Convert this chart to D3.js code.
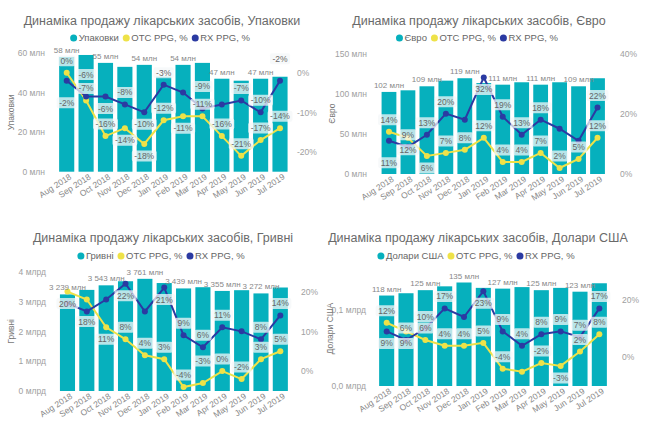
<!DOCTYPE html>
<html>
<head>
<meta charset="utf-8">
<script src="https://d3js.org/d3.v7.min.js"></script>
<style>
body { margin: 0; background: #fff; }
text { font-family: "Liberation Sans", Arial, sans-serif; }
</style>
</head>
<body>
<svg id="chart" width="650" height="433"></svg>
<script>

// months on the x axis
var months = ["Aug 2018", "Sep 2018", "Oct 2018", "Nov 2018", "Dec 2018", "Jan 2019",
              "Feb 2019", "Mar 2019", "Apr 2019", "May 2019", "Jun 2019", "Jul 2019"];

// packs (mln)
var packs    = [58, 59, 55, 53, 54, 48, 54, 55, 47, 46, 47, 48];
var packsOtc = [0, -7, -16, -14, -18, -12, -11, -11, -16, -21, -17, -14];
var packsRx  = [-2, -6, -6, -8, -10, -3, -5, -9, -8, -7, -10, -2];
var packsTicks = [0, 20, 40, 60];
var packsPctTicks = [0, -10, -20];

// euro (mln)
var euro    = [102, 104, 109, 116, 119, 113, 111, 114, 111, 114, 109, 119];
var euroOtc = [14, 12, 6, 7, 8, 12, 4, 4, 7, 2, 5, 12];
var euroRx  = [11, 9, 13, 20, 18, 32, 19, 13, 18, 15, 11, 22];
var euroTicks = [0, 50, 100, 150];
var euroPctTicks = [0, 20, 40];

// hryvnia (mln)
var uah    = [3239, 3390, 3543, 3680, 3761, 3620, 3439, 3480, 3355, 3380, 3272, 3470];
var uahOtc = [20, 18, 11, 8, 4, 3, -4, -3, 0, -2, 3, 5];
var uahRx  = [17, 15, 18, 22, 15, 21, 9, 6, 11, 10, 8, 14];
var uahTicks = [0, 1000, 2000, 3000, 4000];
var uahPctTicks = [0, 10, 20];

// US dollars (mln)
var usd    = [118, 121, 125, 130, 135, 128, 127, 129, 125, 128, 123, 134];
var usdOtc = [12, 9, 6, 4, 4, 5, -4, -5, -2, -3, 2, 8];
var usdRx  = [9, 6, 10, 17, 14, 23, 9, 4, 8, 9, 7, 17];
var usdTicks = [0, 100];
var usdPctTicks = [0, 20];

var barColor = "#06B0BD", otcColor = "#EEE248", rxColor = "#2B3AA2";

var svg = d3.select("#chart");

function spaced(v) { return d3.format(",")(v).replace(/,/g, " "); }

var panels = [
  { title: "Динаміка продажу лікарських засобів, Упаковки", name: "Упаковки",
    bars: packs, otc: packsOtc, rx: packsRx, ticks: packsTicks, pctTicks: packsPctTicks,
    yDomain: [0, 60], pctDomain: [-25, 5],
    tickFmt: function(v) { return v + " млн"; },
    barFmt: function(v) { return v + " млн"; },
    cx: 162, titleY: 25, legendY: 38, x0: 57, x1: 289.7, yTop: 53, yBottom: 171.7,
    leftX: 45, rightX: 297, axisTitleX: 14 },
  { title: "Динаміка продажу лікарських засобів, Євро", name: "Євро",
    bars: euro, otc: euroOtc, rx: euroRx, ticks: euroTicks, pctTicks: euroPctTicks,
    yDomain: [0, 150], pctDomain: [0, 40],
    tickFmt: function(v) { return v + " млн"; },
    barFmt: function(v) { return v + " млн"; },
    cx: 479, titleY: 25, legendY: 38, x0: 379.5, x1: 607, yTop: 53.3, yBottom: 174,
    leftX: 367, rightX: 620, axisTitleX: 335 },
  { title: "Динаміка продажу лікарських засобів, Гривні", name: "Гривні",
    bars: uah, otc: uahOtc, rx: uahRx, ticks: uahTicks, pctTicks: uahPctTicks,
    yDomain: [0, 4000], pctDomain: [-5, 25],
    tickFmt: function(v) { return (v / 1000) + " млрд"; },
    barFmt: function(v) { return spaced(v) + " млн"; },
    cx: 163, titleY: 242, legendY: 256, x0: 57.8, x1: 290, yTop: 271.7, yBottom: 391,
    leftX: 46, rightX: 301, axisTitleX: 14 },
  { title: "Динаміка продажу лікарських засобів, Долари США", name: "Долари США",
    bars: usd, otc: usdOtc, rx: usdRx, ticks: usdTicks, pctTicks: usdPctTicks,
    yDomain: [0, 150], pctDomain: [-10, 30],
    tickFmt: function(v) { return (v / 1000).toFixed(1).replace(".", ",") + " млрд"; },
    barFmt: function(v) { return v + " млн"; },
    cx: 478, titleY: 242, legendY: 256, x0: 377, x1: 609, yTop: 271, yBottom: 386,
    leftX: 366, rightX: 622, axisTitleX: 333 }
];

function overlaps(a, b) {
  return a.x < b.x + b.w && b.x < a.x + a.w && a.y < b.y + b.h && b.y < a.y + a.h;
}

function drawPanel(p) {
  var g = svg.append("g");

  // title
  g.append("text")
    .attr("x", p.cx).attr("y", p.titleY)
    .attr("text-anchor", "middle")
    .style("font-size", "12.5px").style("fill", "#6a6a6a")
    .text(p.title);

  // legend
  var leg = g.append("g");
  var items = [[p.name, barColor], ["OTC PPG, %", otcColor], ["RX PPG, %", rxColor]];
  var lx = 0;
  items.forEach(function(it) {
    leg.append("circle").attr("cx", lx + 3.5).attr("cy", -3).attr("r", 3.5).style("fill", it[1]);
    var t = leg.append("text").attr("x", lx + 8.5).attr("y", 0)
      .style("font-size", "9.5px").style("fill", "#666").text(it[0]);
    lx += 8.5 + t.node().getComputedTextLength() + 4;
  });
  leg.attr("transform", "translate(" + (p.cx - lx / 2) + "," + (p.legendY + 3) + ")");

  var x = d3.scaleBand().domain(months).range([p.x0, p.x1]).paddingInner(0.22).paddingOuter(0.11);
  var y = d3.scaleLinear().domain(p.yDomain).range([p.yBottom, p.yTop]);
  var y2 = d3.scaleLinear().domain(p.pctDomain).range([p.yBottom, p.yTop]);

  // left axis
  var ax = g.append("g")
    .attr("transform", "translate(" + p.leftX + ",0)")
    .call(d3.axisLeft(y).tickValues(p.ticks).tickFormat(p.tickFmt).tickSize(0).tickPadding(0));
  ax.select(".domain").remove();
  ax.selectAll("text").style("font-size", "8.5px").style("fill", "#a0a0a0").style("font-family", null);

  // right axis
  var ax2 = g.append("g")
    .attr("transform", "translate(" + p.rightX + ",0)")
    .call(d3.axisRight(y2).tickValues(p.pctTicks).tickFormat(function(v) { return v + "%"; }).tickSize(0).tickPadding(0));
  ax2.select(".domain").remove();
  ax2.selectAll("text").style("font-size", "8.5px").style("fill", "#a0a0a0").style("font-family", null);

  // bottom axis
  var axb = g.append("g")
    .attr("transform", "translate(0," + (p.yBottom + 3) + ")")
    .call(d3.axisBottom(x).tickSize(0).tickPadding(0));
  axb.select(".domain").remove();
  axb.selectAll("text")
    .style("font-size", "8.5px").style("fill", "#888").style("font-family", null)
    .style("text-anchor", "end")
    .attr("dy", "0.7em").attr("dx", "0.3em")
    .attr("transform", "rotate(-33)");

  // y axis title
  g.append("text")
    .attr("transform", "translate(" + p.axisTitleX + "," + ((p.yTop + p.yBottom) / 2) + ") rotate(-90)")
    .attr("text-anchor", "middle")
    .style("font-size", "8.5px").style("fill", "#777")
    .text(p.name);

  // bars
  g.selectAll(".bar").data(p.bars).enter().append("rect")
    .attr("x", function(d, i) { return x(months[i]); })
    .attr("width", x.bandwidth())
    .attr("y", function(d) { return y(d); })
    .attr("height", function(d) { return p.yBottom - y(d); })
    .style("fill", barColor);

  // lines
  [[p.otc, otcColor], [p.rx, rxColor]].forEach(function(s) {
    g.append("path")
      .datum(s[0])
      .attr("fill", "none")
      .attr("stroke", s[1])
      .attr("stroke-width", 2)
      .attr("d", d3.line()
        .x(function(d, i) { return x(months[i]) + x.bandwidth() / 2; })
        .y(function(d) { return y2(d); }));
    g.selectAll(null).data(s[0]).enter().append("circle")
      .attr("cx", function(d, i) { return x(months[i]) + x.bandwidth() / 2; })
      .attr("cy", function(d) { return y2(d); })
      .attr("r", 3)
      .style("fill", s[1]);
  });

  // labels
  var placed = [];
  var lab = g.append("g");
  p.bars.forEach(function(v, i) {
    if (i % 2 !== 0) return;
    var t = lab.append("text")
      .attr("x", x(months[i]) + x.bandwidth() / 2)
      .attr("y", y(v) - 4)
      .attr("text-anchor", "middle")
      .style("font-size", "8px").style("fill", "#888")
      .text(p.barFmt(v));
    var w = t.node().getComputedTextLength();
    placed.push({ x: x(months[i]) + x.bandwidth() / 2 - w / 2, y: y(v) - 12, w: w, h: 9 });
  });

  [p.otc, p.rx].forEach(function(series) {
    series.forEach(function(v, i) {
      var cx = x(months[i]) + x.bandwidth() / 2, cy = y2(v);
      var lg = lab.append("g");
      var t = lg.append("text").attr("text-anchor", "middle")
        .style("font-size", "8.5px").style("fill", "#666").text(v + "%");
      var w = t.node().getComputedTextLength() + 5, h = 11;
      var spots = [cy - 12, cy + 12, cy - 22, cy + 22];
      var ok = null;
      for (var k = 0; k < spots.length; k++) {
        var box = { x: cx - w / 2, y: spots[k] - h / 2, w: w, h: h };
        if (box.y < p.yTop - 6 || box.y + h > p.yBottom + 2) continue;
        if (!placed.some(function(b) { return overlaps(b, box); })) { ok = box; break; }
      }
      if (!ok) { lg.remove(); return; }
      placed.push(ok);
      lg.insert("rect", "text")
        .attr("x", ok.x).attr("y", ok.y).attr("width", ok.w).attr("height", ok.h)
        .attr("rx", 2)
        .style("fill", "#f4f7f8").style("fill-opacity", 0.75);
      t.attr("x", cx).attr("y", ok.y + h / 2 + 3);
    });
  });
}

panels.forEach(drawPanel);

</script>
</body>
</html>
